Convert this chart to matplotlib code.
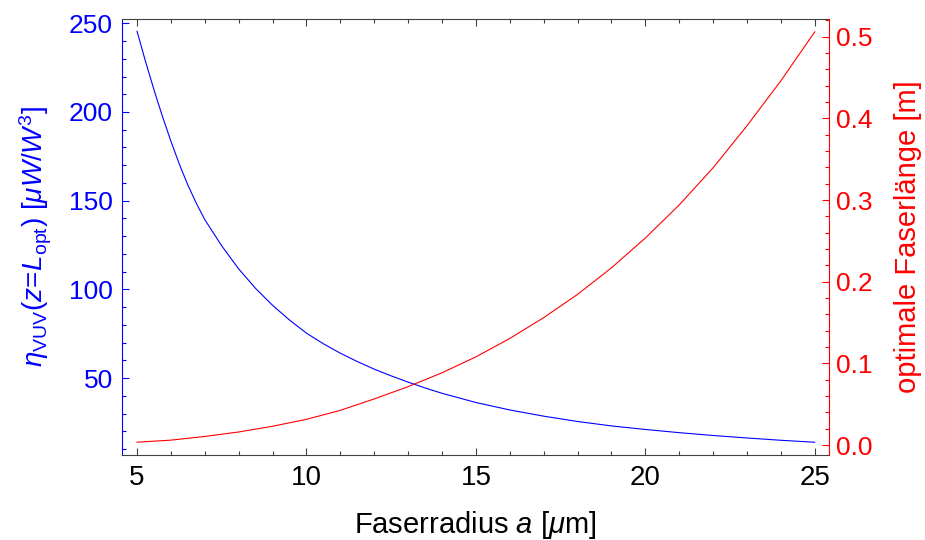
import numpy as np
import matplotlib
matplotlib.use("Agg")
import matplotlib.pyplot as plt
from matplotlib.ticker import MultipleLocator, FormatStrFormatter

plt.rcParams["font.family"] = ["Liberation Sans", "DejaVu Sans"]
plt.rcParams["mathtext.fontset"] = "custom"
plt.rcParams["mathtext.rm"] = "Liberation Sans"
plt.rcParams["mathtext.it"] = "Liberation Sans:italic"
plt.rcParams["mathtext.bf"] = "Liberation Sans:bold"

# fibre radius a [um] and VUV efficiency at the optimal length
radius_eta = [5, 5.25, 5.5, 5.75, 6, 6.25, 6.5, 6.75, 7, 7.5, 8, 8.5, 9, 9.5,
              10, 10.5, 11, 11.5, 12, 12.5, 13, 13.5, 14, 15, 16, 17, 18,
              19, 20, 21, 22, 23, 24, 25]
eta_vuv = [245.5, 228.5, 212.5, 197.5, 183.5, 170.5, 158.8, 148.5, 139.3,
           124.5, 111.5, 100.5, 91, 82.7, 75.3, 69.3, 64, 59.3, 55, 51.2,
           47.7, 44.4, 41.4, 36.2, 32, 28.5, 25.5, 23, 21, 19.2, 17.6, 16.2,
           14.9, 13.8]

# fibre radius a [um] and optimal fibre length [m]
radius_len = [5, 6, 7, 8, 9, 10, 11, 12, 13, 14, 15, 16, 17, 18, 19, 20,
              21, 22, 23, 24, 25]
opt_length = [0.0035, 0.006, 0.0105, 0.016, 0.023, 0.0315, 0.0425, 0.0565,
              0.0715, 0.0885, 0.108, 0.1305, 0.156, 0.1845, 0.217, 0.2535,
              0.294, 0.3395, 0.391, 0.446, 0.506]

blue = "#0000ff"
red = "#ff0000"
frame = "#404040"

fig = plt.figure(figsize=(9.25, 5.4), dpi=100)
ax = fig.add_axes([0.1324, 0.1574, 0.7638, 0.8083])
ax2 = ax.twinx()

ax.plot(radius_eta, eta_vuv, color=blue, lw=0.8)
ax2.plot(radius_len, opt_length, color=red, lw=0.8)

ax.set_xlim(4.57, 25.42)
ax.set_ylim(6.6, 252.7)
ax2.set_ylim(-0.0122, 0.5223)

ax.xaxis.set_major_locator(MultipleLocator(5))
ax.xaxis.set_minor_locator(MultipleLocator(1))
ax.yaxis.set_major_locator(MultipleLocator(50))
ax.yaxis.set_minor_locator(MultipleLocator(10))
ax2.yaxis.set_major_locator(MultipleLocator(0.1))
ax2.yaxis.set_minor_locator(MultipleLocator(0.02))
ax2.yaxis.set_major_formatter(FormatStrFormatter("%.1f"))

# frame: blue left, red right, grey top/bottom
for s in ["top", "bottom"]:
    ax.spines[s].set_color(frame)
    ax.spines[s].set_linewidth(0.8)
    ax2.spines[s].set_visible(False)
ax.spines["left"].set_color(blue)
ax.spines["left"].set_linewidth(0.8)
ax.spines["right"].set_visible(False)
ax2.spines["left"].set_visible(False)
ax2.spines["right"].set_color(red)
ax2.spines["right"].set_linewidth(0.8)

ax.tick_params(axis="x", which="both", direction="in", top=True, color=frame,
               labelcolor="black", labelsize=20, pad=7, width=0.8)
ax.tick_params(axis="y", which="both", direction="in", color=blue,
               labelcolor=blue, labelsize=19, pad=7, width=0.8)
ax2.tick_params(axis="y", which="both", direction="in", color=red,
                labelcolor=red, labelsize=19, pad=5, width=0.8)
for a in (ax, ax2):
    a.tick_params(which="major", length=5)
    a.tick_params(which="minor", length=3)

ax.set_xlabel(r"Faserradius $a$ [$\mu$m]", fontsize=21, va="center")
ax.xaxis.set_label_coords(0.5, -0.16)
ax.set_ylabel(r"$\eta_{\mathrm{VUV}}(z\!=\!L_{\mathrm{opt}})\ [\mu W/W^3]$",
              fontsize=20, color=blue, va="center")
ax.yaxis.set_label_coords(-0.122, 0.5)
ax2.set_ylabel("optimale Faserlänge [m]", fontsize=21, color=red,
               va="center", rotation=90)
ax2.yaxis.set_label_coords(1.112, 0.5)

fig.savefig("out.png", dpi=100)
